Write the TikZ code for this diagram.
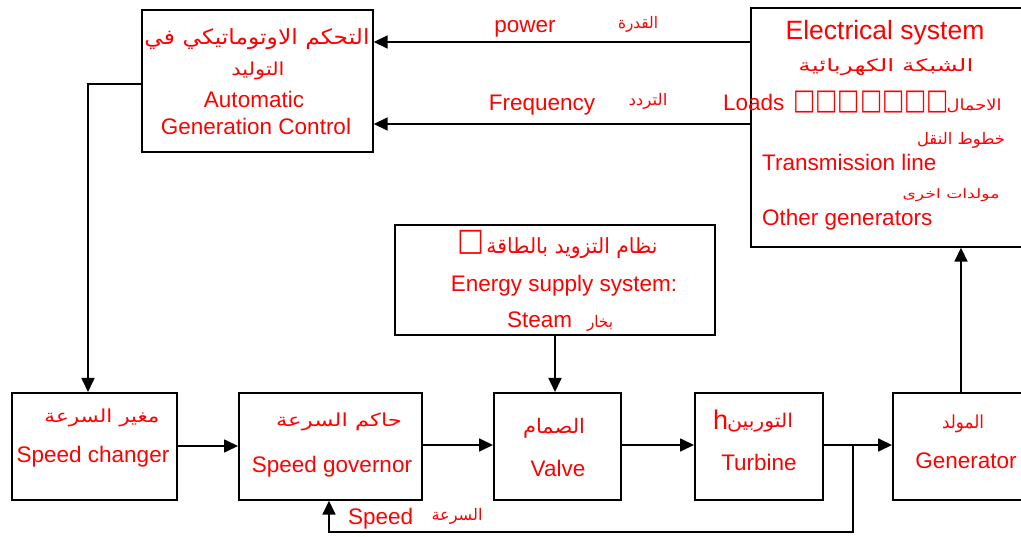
\documentclass[tikz,border=0pt]{standalone}
\usepackage{fontspec}
\setmainfont{Liberation Sans}
\newfontfamily\arabicfont[Script=Arabic]{DejaVu Sans}
\TeXXeTstate=1
\usetikzlibrary{arrows.meta}
\newcommand\ArW[3]{\resizebox*{#1}{#2}{\arabicfont #3}}
\begin{document}
\begin{tikzpicture}[x=1pt,y=-1pt,
  box/.style={draw, line width=1.7pt, inner sep=0pt, anchor=north west},
  en/.style={text=red, inner sep=0pt, font=\fontsize{22.5}{26}\selectfont},
  big/.style={text=red, inner sep=0pt, font=\fontsize{26.5}{30}\selectfont},
  ar/.style={text=red, inner sep=0pt},
  arr/.style={line width=1.7pt, -{Triangle[length=14pt,width=13pt]}}]
\useasboundingbox (0,0) rectangle (1021,537);
% boxes
\node[box, minimum width=231pt, minimum height=142pt] (agc) at (141,9) {};
\node[box, minimum width=290pt, minimum height=239pt] (es) at (750,7) {};
\node[box, minimum width=320pt, minimum height=110pt] (ess) at (394,224) {};
\node[box, minimum width=165pt, minimum height=107pt] (sc) at (11,392) {};
\node[box, minimum width=183pt, minimum height=107pt] (sg) at (238,392) {};
\node[box, minimum width=127pt, minimum height=107pt] (vl) at (493,392) {};
\node[box, minimum width=128pt, minimum height=107pt] (tb) at (694,392) {};
\node[box, minimum width=150pt, minimum height=107pt] (gn) at (892,392) {};
% AGC texts
\node[ar] (agc1) at (257,39) {\ArW{225pt}{21pt}{\beginR التحكم الاوتوماتيكي في\endR}};
\node[ar] (agc2) at (258,71) {\ArW{53pt}{18pt}{\beginR التوليد\endR}};
\node[en, anchor=base] (agc3) at (254,108) {Automatic};
\node[en, anchor=base] (agc4) at (256,135) {Generation Control};
% Electrical system texts
\node[big, anchor=base] (es1) at (885,40) {Electrical system};
\node[ar] (es2) at (886,67) {\ArW{175pt}{17pt}{\beginR الشبكة الكهربائية\endR}};
\node[en, anchor=base west] (es3) at (723,111) {Loads};
\node[ar, anchor=west] (es4) at (793,102) {\ArW{156pt}{22pt}{□□□□□□□}};
\node[ar] (es5) at (974,106) {\ArW{55pt}{14pt}{\beginR الاحمال\endR}};
\node[ar] (es6) at (961,140) {\ArW{88pt}{16pt}{\beginR خطوط النقل\endR}};
\node[en, anchor=base west] (es7) at (762,171) {Transmission line};
\node[ar] (es8) at (951,195) {\ArW{97pt}{13pt}{\beginR مولدات اخرى\endR}};
\node[en, anchor=base west] (es9) at (762,226) {Other generators};
% arrow labels
\node[en, anchor=base] (pw) at (525,33) {power};
\node[ar] (pwa) at (638,24) {\ArW{40pt}{16pt}{\beginR القدرة\endR}};
\node[en, anchor=base] (fq) at (542,111) {Frequency};
\node[ar] (fqa) at (648,101) {\ArW{39pt}{16pt}{\beginR التردد\endR}};
% energy supply texts
\node[ar] (ess0) at (471,242) {\ArW{27pt}{24pt}{□}};
\node[ar] (ess1) at (572,248) {\ArW{171pt}{21pt}{\beginR نظام التزويد بالطاقة\endR}};
\node[en, anchor=base] (ess2) at (564,292) {Energy supply system:};
\node[en, anchor=base west] (ess3) at (507,328) {Steam};
\node[ar] (ess4) at (600,323) {\ArW{26pt}{16pt}{\beginR بخار\endR}};
% bottom texts
\node[ar] (sc1) at (102,418) {\ArW{115pt}{18pt}{\beginR مغير السرعة\endR}};
\node[en, anchor=base] (sc2) at (93,462) {Speed changer};
\node[ar] (sg1) at (339,422) {\ArW{126pt}{18pt}{\beginR حاكم السرعة\endR}};
\node[en, anchor=base] (sg2) at (332,472) {Speed governor};
\node[ar] (vl1) at (554,428) {\ArW{62pt}{20pt}{\beginR الصمام\endR}};
\node[en, anchor=base] (vl2) at (558,476) {Valve};
\node[en, anchor=base west, font=\fontsize{27}{30}\selectfont] (tb0) at (713,430) {h};
\node[ar] (tb1) at (760,423) {\ArW{66pt}{19pt}{\beginR التوربين\endR}};
\node[en, anchor=base] (tb2) at (759,471) {Turbine};
\node[ar] (gn1) at (963,424) {\ArW{42pt}{18pt}{\beginR المولد\endR}};
\node[en, anchor=base] (gn2) at (966,468) {Generator};
\node[en, anchor=base west] (fb1) at (348,524) {Speed};
\node[ar] (fb2) at (457,516) {\ArW{51pt}{16pt}{\beginR السرعة\endR}};
% connectors
\draw[arr] (es.west |- 0,42) -- (agc.east |- 0,42);
\draw[arr] (es.west |- 0,124) -- (agc.east |- 0,124);
\draw[arr] (agc.west |- 0,84) -| (sc.north -| 88,0);
\draw[arr] (sc.east |- 0,446) -- (sg.west |- 0,446);
\draw[arr] (sg.east |- 0,445) -- (vl.west |- 0,445);
\draw[arr] (vl.east |- 0,445) -- (tb.west |- 0,445);
\draw[arr] (tb.east |- 0,445) -- (gn.west |- 0,445);
\draw[arr] (ess.south -| 555,0) -- (vl.north -| 555,0);
\draw[arr] (gn.north -| 961,0) -- (es.south -| 961,0);
\coordinate (br) at (853,445);
\coordinate (fb) at (853,532);
\draw[arr] (br) -- (fb) -| (sg.south -| 329,0);
\end{tikzpicture}
\end{document}
